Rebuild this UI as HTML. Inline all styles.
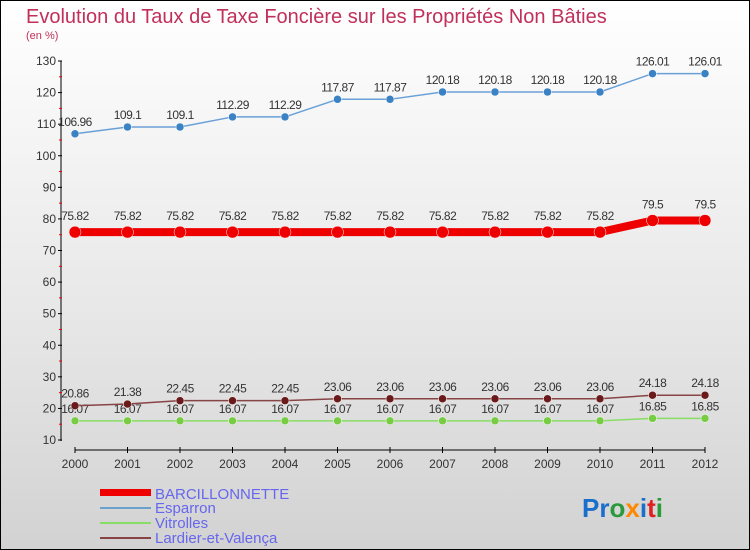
<!DOCTYPE html>
<html><head><meta charset="utf-8"><style>
body{margin:0;width:750px;height:550px;overflow:hidden}
#c{position:absolute;left:0;top:0;width:748px;height:548px;border:1px solid #000;background:linear-gradient(#fff,#e6e6e6 60%,#d2d2d2)}
text{font-family:"Liberation Sans",sans-serif}
</style></head><body>
<div id="c">
<svg id="s" width="750" height="550" style="position:absolute;left:-1px;top:-1px">
<text x="26" y="23" font-size="20" fill="#c0305a">Evolution du Taux de Taxe Foncière sur les Propriétés Non Bâties</text>
<text x="26" y="39" font-size="11" fill="#c0305a">(en %)</text>
<g id="g"></g>
<g>
<rect x="100" y="489" width="51" height="7" fill="#ee0000"/>
<text x="155" y="499" font-size="15" fill="#6666ee">BARCILLONNETTE</text>
<rect x="100" y="507" width="51" height="2" fill="#6aa0cc"/>
<text x="155" y="513" font-size="15" fill="#6666ee">Esparron</text>
<rect x="100" y="522" width="51" height="2" fill="#88dd66"/>
<text x="155" y="528" font-size="15" fill="#6666ee">Vitrolles</text>
<rect x="100" y="537" width="51" height="2" fill="#884444"/>
<text x="155" y="543" font-size="15" fill="#6666ee">Lardier-et-Valença</text>
</g>
<text x="582" y="517" font-size="26" font-weight="bold"><tspan fill="#1a6fcc">Pr</tspan><tspan fill="#2a9a3a">o</tspan><tspan fill="#ff8800">x</tspan><tspan fill="#1a6fcc">i</tspan><tspan fill="#e02020">t</tspan><tspan fill="#2a9a3a">i</tspan></text>
</svg></div>
<script>
const years=[2000,2001,2002,2003,2004,2005,2006,2007,2008,2009,2010,2011,2012];
const barcillonnette=[75.82,75.82,75.82,75.82,75.82,75.82,75.82,75.82,75.82,75.82,75.82,79.5,79.5];
const esparron=[106.96,109.1,109.1,112.29,112.29,117.87,117.87,120.18,120.18,120.18,120.18,126.01,126.01];
const vitrolles=[16.07,16.07,16.07,16.07,16.07,16.07,16.07,16.07,16.07,16.07,16.07,16.85,16.85];
const lardier=[20.86,21.38,22.45,22.45,22.45,23.06,23.06,23.06,23.06,23.06,23.06,24.18,24.18];
const yTicks=[10,20,30,40,50,60,70,80,90,100,110,120,130];
const NS="http://www.w3.org/2000/svg",g=document.getElementById('g');
const X=i=>75+i*52.5, Y=v=>440-(v-10)*379/120;
function el(t,a){const e=document.createElementNS(NS,t);for(const k in a)e.setAttribute(k,a[k]);g.appendChild(e);return e;}
let e=el('line',{x1:61,y1:61,x2:61,y2:441,stroke:'#000'});


yTicks.forEach(v=>{
 el('line',{x1:58,x2:62,y1:Y(v),y2:Y(v),stroke:'#000'});
 if(v<130)el('line',{x1:59,x2:62,y1:Y(v+5),y2:Y(v+5),stroke:'#e00'});
 const t=el('text',{x:56,y:Y(v)+4,'font-size':12,fill:'#333','text-anchor':'end'});t.textContent=v;
 
 
});
e=el('line',{x1:X(0),y1:450,x2:X(12),y2:450,stroke:'#000'});


years.forEach((y,i)=>{
 el('line',{x1:X(i),x2:X(i),y1:447,y2:453,stroke:'#000'});
 const t=el('text',{x:X(i),y:468,'font-size':12,fill:'#333','text-anchor':'middle'});t.textContent=y;
 
 
});
function series(d,name,col,w,dot,r,off){
 const p=el('polyline',{points:d.map((v,i)=>X(i)+','+Y(v)).join(' '),fill:'none',stroke:col,'stroke-width':w,'stroke-linejoin':'round','stroke-linecap':'round'});
 
 
 d.forEach((v,i)=>{
  const c=el('circle',{cx:X(i),cy:Y(v),r:r,fill:dot,stroke:'#fff','stroke-width':0.5});
  
  
  const t=el('text',{x:X(i),y:Y(v)-off,'font-size':12,fill:'#333','text-anchor':'middle','letter-spacing':'-0.5'});t.textContent=v;
  
  
 });
}
series(esparron,'esparron','#6aa0d8',1.5,'#3a82c4',4,8);
series(vitrolles,'vitrolles','#88dd66',1.5,'#77cc44',4,8);
series(lardier,'lardier','#884444',1.5,'#6a1a1a',4,8);
series(barcillonnette,'barcillonnette','#ee0000',8,'#ee0000',6,12);
</script>
</body></html>
